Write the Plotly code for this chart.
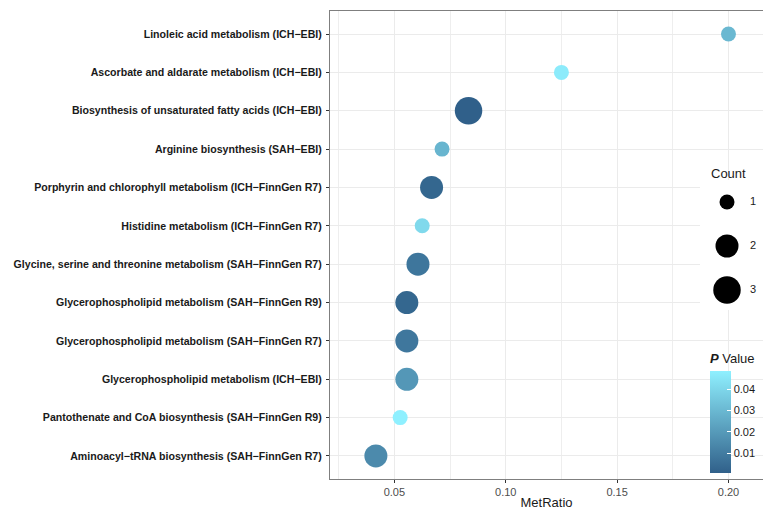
import plotly.graph_objects as go

# ---------------- data (top to bottom as displayed) ----------------
pathways = [
    "Linoleic acid metabolism (ICH−EBI)",
    "Ascorbate and aldarate metabolism (ICH−EBI)",
    "Biosynthesis of unsaturated fatty acids (ICH−EBI)",
    "Arginine biosynthesis (SAH−EBI)",
    "Porphyrin and chlorophyll metabolism (ICH−FinnGen R7)",
    "Histidine metabolism (ICH−FinnGen R7)",
    "Glycine, serine and threonine metabolism (SAH−FinnGen R7)",
    "Glycerophospholipid metabolism (SAH−FinnGen R9)",
    "Glycerophospholipid metabolism (SAH−FinnGen R7)",
    "Glycerophospholipid metabolism (ICH−EBI)",
    "Pantothenate and CoA biosynthesis (SAH−FinnGen R9)",
    "Aminoacyl−tRNA biosynthesis (SAH−FinnGen R7)",
]
met_ratio = [0.200, 0.125, 0.0833, 0.0714, 0.0667, 0.0625, 0.0606,
             0.0556, 0.0556, 0.0556, 0.0526, 0.0417]
counts = [1, 1, 3, 1, 2, 1, 2, 2, 2, 2, 1, 2]
p_values = [0.030, 0.047, 0.0008, 0.029, 0.003, 0.041, 0.008,
            0.003, 0.0085, 0.019, 0.0486, 0.0147]

count_levels = [1, 2, 3]
x_tick_vals = [0.05, 0.10, 0.15, 0.20]
x_tick_text = ["0.05", "0.10", "0.15", "0.20"]
p_tick_vals = [0.01, 0.02, 0.03, 0.04]

# ---------------- styling ----------------
size_px = {1: 15, 2: 23, 3: 27.5}
colorscale = [[0, "#30608A"], [1, "#8FF0FF"]]
W, H = 763, 510
L, R, T, B = 330, 0, 11, 31
pw, ph = W - L - R, H - T - B

def px_x(px):
    return (px - L) / pw

def px_y(py):
    return (H - B - py) / ph

fig = go.Figure()

fig.add_trace(go.Scatter(
    x=met_ratio, y=pathways, mode="markers",
    marker=dict(
        size=[size_px[c] for c in counts],
        color=p_values, colorscale=colorscale,
        cmin=min(p_values), cmax=max(p_values),
        line=dict(width=0), opacity=1,
        colorbar=dict(
            title=dict(text="<b><i>P</i></b> Value", side="top",
                       font=dict(size=13, color="#1a1a1a")),
            x=px_x(710), xanchor="left", xref="paper",
            y=px_y(472.7), yanchor="bottom", yref="paper",
            len=(102 + 20) / ph, lenmode="fraction",
            thickness=21, outlinewidth=0, xpad=0, ypad=0,
            tickvals=p_tick_vals, ticks="inside", ticklen=4,
            tickcolor="white", tickwidth=1,
            tickfont=dict(size=11, color="#1a1a1a"),
        ),
    ),
    showlegend=False, hoverinfo="x+y",
))

# size key (Count legend) on its own small axes, driven by count_levels
fig.add_trace(go.Scatter(
    x=[0] * len(count_levels), y=count_levels, mode="markers",
    marker=dict(size=[size_px[c] for c in count_levels], color="black",
                line=dict(width=0), opacity=1),
    xaxis="x2", yaxis="y2", showlegend=False, hoverinfo="skip",
))
fig.add_trace(go.Scatter(
    x=[26] * len(count_levels), y=count_levels, mode="text",
    text=[str(c) for c in count_levels], textposition="middle center",
    textfont=dict(size=11, color="#1a1a1a"),
    xaxis="x2", yaxis="y2", showlegend=False, hoverinfo="skip",
))

order = pathways[::-1]

fig.update_layout(
    width=W, height=H,
    margin=dict(l=L, r=R, t=T, b=B, pad=0),
    paper_bgcolor="white", plot_bgcolor="white",
    font=dict(family="Liberation Sans, Arial, sans-serif", color="#1a1a1a"),
    xaxis=dict(
        range=[0.0211, 0.2155], tickvals=x_tick_vals, ticktext=x_tick_text,
        showgrid=True, gridcolor="#EBEBEB", gridwidth=1.1,
        minor=dict(dtick=0.025, tick0=0.025, showgrid=True,
                   gridcolor="#EEEEEE", gridwidth=0.6, ticks=""),
        ticks="outside", ticklen=3, tickcolor="#333333", tickwidth=1,
        tickfont=dict(size=11, color="#4d4d4d"),
        showline=True, linecolor="#7f7f7f", linewidth=1.2, mirror=True,
        zeroline=False,
        title=dict(text="MetRatio", font=dict(size=13, color="#1a1a1a"), standoff=2),
    ),
    yaxis=dict(
        type="category", categoryorder="array", categoryarray=order,
        range=[-0.6, len(order) - 0.4],
        showgrid=True, gridcolor="#EBEBEB", gridwidth=1.1,
        ticks="outside", ticklen=3, tickcolor="#333333", tickwidth=1,
        tickfont=dict(size=10.6, color="#1a1a1a", weight="bold"),
        showline=True, linecolor="#7f7f7f", linewidth=1.2,
        zeroline=False, ticklabelstandoff=2,
    ),
    xaxis2=dict(domain=[px_x(700), 1.0], range=[-27, 36], visible=False,
                anchor="y2", fixedrange=True),
    yaxis2=dict(domain=[px_y(310), px_y(180)], range=[3.4545, 0.5],
                visible=False, anchor="x2", fixedrange=True),
    annotations=[dict(
        text="Count", x=px_x(728), y=px_y(173), xref="paper", yref="paper",
        showarrow=False, font=dict(size=13, color="#1a1a1a"),
        xanchor="center", yanchor="middle",
    )],
)

fig.write_html("out.html")
